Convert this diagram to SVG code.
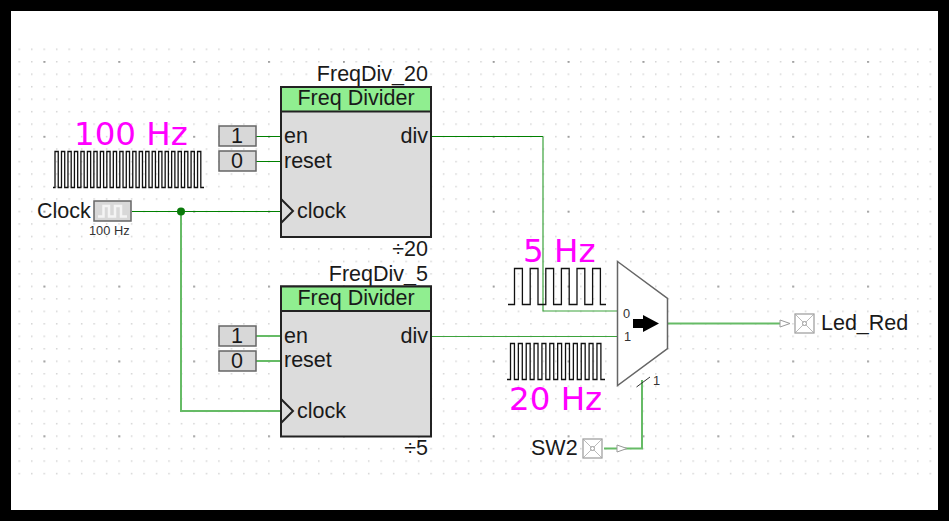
<svg xmlns="http://www.w3.org/2000/svg" width="949" height="521" viewBox="0 0 949 521">
<style>
text{font-family:"Liberation Sans",Arial,sans-serif;fill:#1a1a1a}
.w{fill:none;stroke:#66bb66;stroke-width:2}
.wm{fill:none;stroke:#3da33d;stroke-width:1.2}
.wd{fill:none;stroke:#008000;stroke-width:1.2}
.hz{font-family:"DejaVu Sans",sans-serif;font-size:32.500px;fill:#ff00ff}
.l{font-size:21.500px}
.box{fill:#dcdcdc;stroke:#222;stroke-width:2}
.hd{fill:#90ee90;stroke:#222;stroke-width:2}
.c{fill:#d8d8d8;stroke:#666;stroke-width:1.5}
.sig{fill:none;stroke:#111;stroke-width:1.3}
.io{fill:#fff;stroke:#999;stroke-width:1.2}
.iox{fill:none;stroke:#aaa;stroke-width:.8}
.tri{fill:#fff;stroke:#999;stroke-width:1}
</style>
<defs>
<pattern id="minor" x="18.500" y="48.500" width="12.48" height="12.48" patternUnits="userSpaceOnUse"><rect width="1.500" height="1.500" fill="#d4d4d4"/></pattern>
<pattern id="major" x="43.500" y="61" width="74.880" height="74.880" patternUnits="userSpaceOnUse"><rect width="1.800" height="1.800" fill="#999"/></pattern>
</defs>
<rect width="949" height="521" fill="#000"/>
<rect x="11" y="11" width="927" height="499" fill="#fff"/>
<rect x="18" y="48" width="914" height="427" fill="url(#minor)"/>
<rect x="18" y="48" width="914" height="427" fill="url(#major)"/>
<g id="connectors">
<path class="wd" d="M256 136.500H281M256 161.500H281M132 211.500H281M431 136.500H543"/>
<path class="wm" d="M543 136.500V311H618M431 336.500H618"/>
<path class="w" d="M181 211V411H281M256 336H281M256 361H281M668 323.500H782M642 380V448.500H604"/>
<circle cx="181" cy="211.500" r="4" fill="#0a7a0a"/>
<path class="tri" d="M780 320L790 323.500L780 327Z"/>
<path class="tri" d="M617 445L627 448.500L617 452Z"/>
</g>
<g id="label-100hz"><text class="hz" x="74" y="145">100 Hz</text>
<path class="sig" d="M53 187.500H55V151.500h3.240V187.500h3.240V151.500h3.240V187.500h3.240V151.500h3.240V187.500h3.240V151.500h3.240V187.500h3.240V151.500h3.240V187.500h3.240V151.500h3.240V187.500h3.240V151.500h3.240V187.500h3.240V151.500h3.240V187.500h3.240V151.500h3.240V187.500h3.240V151.500h3.240V187.500h3.240V151.500h3.240V187.500h3.240V151.500h3.240V187.500h3.240V151.500h3.240V187.500h3.240V151.500h3.240V187.500h3.240V151.500h3.240V187.500h3.240V151.500h3.240V187.500h3.240V151.500h3.240V187.500h3.240V151.500h3.240V187.500h3.240V151.500h3.240V187.500h3.240V151.500h3.240V187.500h3.240V151.500h3.240V187.500h3.240V151.500h3.240V187.500h3.240V151.500h3.240V187.500H204"/></g>
<g id="label-5hz"><text class="hz" x="523" y="262">5 Hz</text>
<path class="sig" d="M508 304.500H514.500V268.500h7.900V304.500h7.800V268.500h7.800V304.500h7.800V268.500h7.800V304.500h7.800V268.500h7.800V304.500h7.800V268.500h7.800V304.500h7.800V268.500h7.800V304.500H606"/></g>
<g id="label-20hz"><text class="hz" x="509" y="410">20 Hz</text>
<path class="sig" d="M507 379.500H510.500V343.500h3.930V379.500h3.930V343.500h3.930V379.500h3.930V343.500h3.930V379.500h3.930V343.500h3.930V379.500h3.930V343.500h3.930V379.500h3.930V343.500h3.930V379.500h3.930V343.500h3.930V379.500h3.930V343.500h3.930V379.500h3.930V343.500h3.930V379.500h3.930V343.500h3.930V379.500h3.930V343.500h3.930V379.500h3.930V343.500h3.930V379.500H605"/></g>
<g id="clock">
<text class="l" x="37" y="218">Clock</text>
<rect class="c" x="94" y="201" width="37" height="20" fill="#dedede"/>
<path d="M98 216.500H103.500V206H109V216.500H115V206H121V216.500H127" fill="none" stroke="#f4f4f4" stroke-width="2.500"/>
<text x="89" y="235" font-size="12.800" style="fill:#333">100 Hz</text>
</g>
<g id="c1a"><rect class="c" x="219" y="126" width="37" height="20"/><text class="l" x="237" y="143" text-anchor="middle">1</text></g>
<g id="c0a"><rect class="c" x="219" y="151" width="37" height="20"/><text class="l" x="237" y="168" text-anchor="middle">0</text></g>
<g id="c1b"><rect class="c" x="219" y="326" width="37" height="20"/><text class="l" x="237" y="343" text-anchor="middle">1</text></g>
<g id="c0b"><rect class="c" x="219" y="351" width="37" height="20"/><text class="l" x="237" y="368" text-anchor="middle">0</text></g>
<g id="FreqDiv_20">
<text class="l" x="428" y="81" text-anchor="end">FreqDiv_20</text>
<rect class="box" x="281" y="87" width="150" height="150"/>
<rect class="hd" x="281" y="87" width="150" height="24.500"/>
<text class="l" x="356" y="105" text-anchor="middle">Freq Divider</text>
<text class="l" x="284" y="143">en</text><text class="l" x="284" y="168">reset</text>
<text class="l" x="428" y="143" text-anchor="end">div</text>
<path d="M281 199L293 211L281 223" fill="none" stroke="#222" stroke-width="2"/>
<text class="l" x="297" y="218">clock</text>
<text class="l" x="428" y="256" text-anchor="end">÷20</text>
</g>
<g id="FreqDiv_5">
<text class="l" x="428" y="281" text-anchor="end">FreqDiv_5</text>
<rect class="box" x="281" y="286.500" width="150" height="150"/>
<rect class="hd" x="281" y="286.500" width="150" height="24.500"/>
<text class="l" x="356" y="305" text-anchor="middle">Freq Divider</text>
<text class="l" x="284" y="343">en</text><text class="l" x="284" y="367">reset</text>
<text class="l" x="428" y="343" text-anchor="end">div</text>
<path d="M281 399L293 411L281 423" fill="none" stroke="#222" stroke-width="2"/>
<text class="l" x="297" y="418">clock</text>
<text class="l" x="428" y="455" text-anchor="end">÷5</text>
</g>
<g id="mux">
<path d="M617.500 261.500L667.500 298.500V348.500L617.500 385.500Z" fill="#fff" stroke="#666" stroke-width="1.500"/>
<text x="623" y="318" font-size="12.800" style="fill:#333">0</text><text x="624" y="341" font-size="12.800" style="fill:#333">1</text>
<path d="M633 319H643V315L659 323.500L643 332V328H633Z" fill="#000"/>
<path d="M636.500 387L650 377" stroke="#333" stroke-width="1" fill="none"/>
<text x="653" y="385" font-size="12.800" style="fill:#333">1</text>
</g>
<g id="Led_Red">
<rect class="io" x="795" y="314" width="19" height="19"/><path class="iox" d="M795 314L814 333M814 314L795 333"/><circle cx="804.500" cy="323.500" r="2" fill="#fff" stroke="#999"/>
<text class="l" x="821" y="330">Led_Red</text>
</g>
<g id="SW2">
<text class="l" x="531" y="455">SW2</text>
<rect class="io" x="583" y="439" width="19" height="19"/><path class="iox" d="M583 439L602 458M602 439L583 458"/><circle cx="592.500" cy="448.500" r="2" fill="#fff" stroke="#999"/>
</g>
</svg>
